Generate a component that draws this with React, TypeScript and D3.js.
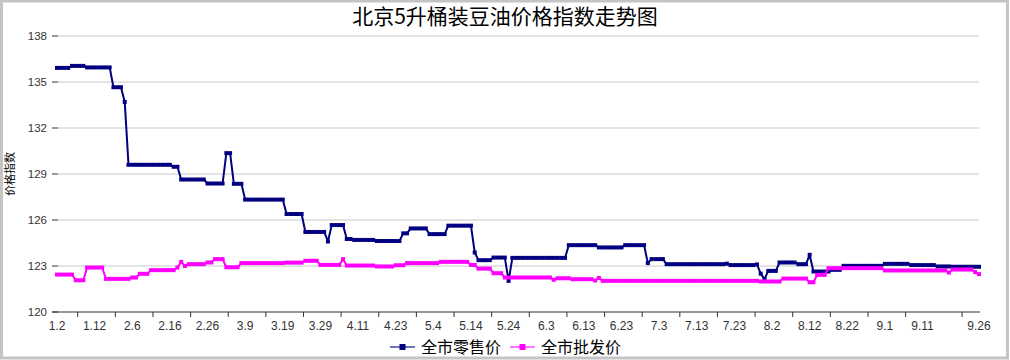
import React from "react";
import * as d3 from "d3";

// 全市零售价 (retail index), one value per trading day
const retail: number[] = [
  135.92, 135.92, 135.92, 135.92, 136.05, 136.05, 136.05, 136.05, 135.95, 135.95,
  135.95, 135.95, 135.95, 135.95, 135.95, 134.66, 134.66, 134.66, 133.7, 129.6,
  129.6, 129.6, 129.6, 129.6, 129.6, 129.6, 129.6, 129.6, 129.6, 129.6,
  129.6, 129.47, 129.47, 128.64, 128.64, 128.64, 128.64, 128.64, 128.64, 128.64,
  128.38, 128.38, 128.38, 128.38, 128.38, 130.36, 130.36, 128.36, 128.36, 128.36,
  127.33, 127.33, 127.33, 127.33, 127.33, 127.33, 127.33, 127.33, 127.33, 127.33,
  127.33, 126.39, 126.39, 126.39, 126.39, 126.39, 125.22, 125.22, 125.22, 125.22,
  125.22, 125.22, 124.6, 125.67, 125.67, 125.67, 125.67, 124.76, 124.76, 124.7,
  124.7, 124.7, 124.7, 124.7, 124.7, 124.63, 124.63, 124.63, 124.63, 124.63,
  124.63, 124.63, 125.13, 125.13, 125.45, 125.45, 125.45, 125.45, 125.45, 125.08,
  125.08, 125.08, 125.08, 125.08, 125.63, 125.63, 125.63, 125.63, 125.63, 125.63,
  125.63, 123.88, 123.38, 123.38, 123.38, 123.38, 123.55, 123.55, 123.55, 123.55,
  122.03, 123.53, 123.53, 123.53, 123.53, 123.53, 123.53, 123.53, 123.53, 123.53,
  123.53, 123.53, 123.53, 123.53, 123.53, 123.53, 124.36, 124.36, 124.36, 124.36,
  124.36, 124.36, 124.36, 124.36, 124.21, 124.21, 124.21, 124.21, 124.21, 124.21,
  124.21, 124.36, 124.36, 124.36, 124.36, 124.36, 124.36, 123.19, 123.45, 123.45,
  123.45, 123.45, 123.12, 123.12, 123.12, 123.12, 123.12, 123.12, 123.12, 123.12,
  123.12, 123.12, 123.12, 123.12, 123.12, 123.12, 123.12, 123.12, 123.15, 123.06,
  123.06, 123.06, 123.06, 123.06, 123.06, 123.06, 123.1, 122.5, 122.14, 122.68,
  122.68, 122.68, 123.23, 123.23, 123.23, 123.23, 123.23, 123.12, 123.12, 123.12,
  123.73, 122.64, 122.64, 122.64, 122.64, 122.64, 122.75, 122.75, 122.75, 123.01,
  123.01, 123.01, 123.01, 123.01, 123.01, 123.01, 123.01, 123.01, 123.01, 123.01,
  123.14, 123.14, 123.14, 123.14, 123.14, 123.14, 123.14, 123.06, 123.06, 123.06,
  123.06, 123.06, 123.06, 123.06, 122.97, 122.97, 122.97, 122.97, 122.95, 122.95,
  122.95, 122.95, 122.95, 122.95, 122.95, 122.95,
];

// 全市批发价 (wholesale index)
const wholesale: number[] = [
  122.44, 122.44, 122.44, 122.44, 122.44, 122.07, 122.07, 122.07, 122.9, 122.9,
  122.9, 122.9, 122.9, 122.16, 122.16, 122.16, 122.16, 122.16, 122.16, 122.16,
  122.25, 122.25, 122.49, 122.49, 122.49, 122.73, 122.73, 122.73, 122.73, 122.73,
  122.73, 122.73, 122.9, 123.27, 123.0, 123.12, 123.12, 123.12, 123.12, 123.12,
  123.23, 123.23, 123.45, 123.45, 123.45, 122.92, 122.92, 122.92, 122.92, 123.19,
  123.19, 123.19, 123.19, 123.19, 123.19, 123.19, 123.19, 123.19, 123.19, 123.19,
  123.19, 123.22, 123.22, 123.22, 123.22, 123.22, 123.34, 123.34, 123.34, 123.34,
  123.07, 123.07, 123.07, 123.07, 123.07, 123.07, 123.45, 123.03, 123.03, 123.03,
  123.03, 123.03, 123.03, 123.03, 123.03, 122.97, 122.97, 122.97, 122.97, 122.97,
  123.05, 123.05, 123.05, 123.19, 123.19, 123.19, 123.19, 123.19, 123.19, 123.19,
  123.19, 123.19, 123.27, 123.27, 123.27, 123.27, 123.27, 123.27, 123.27, 123.27,
  123.07, 123.07, 122.83, 122.83, 122.83, 122.83, 122.53, 122.53, 122.53, 122.25,
  122.25, 122.25, 122.25, 122.25, 122.25, 122.25, 122.25, 122.25, 122.25, 122.25,
  122.25, 122.25, 122.1, 122.2, 122.2, 122.2, 122.2, 122.14, 122.14, 122.14,
  122.14, 122.14, 122.14, 122.05, 122.22, 122.03, 122.03, 122.03, 122.03, 122.03,
  122.03, 122.03, 122.03, 122.03, 122.03, 122.03, 122.03, 122.03, 122.03, 122.03,
  122.03, 122.03, 122.03, 122.03, 122.03, 122.03, 122.03, 122.03, 122.03, 122.03,
  122.03, 122.03, 122.03, 122.03, 122.03, 122.03, 122.03, 122.03, 122.03, 122.03,
  122.03, 122.03, 122.03, 122.03, 122.03, 122.03, 122.03, 121.99, 121.99, 121.99,
  121.99, 121.99, 121.99, 122.18, 122.18, 122.18, 122.18, 122.18, 122.18, 122.18,
  121.94, 121.94, 122.42, 122.42, 122.42, 122.86, 122.86, 122.86, 122.86, 122.86,
  122.86, 122.86, 122.86, 122.86, 122.86, 122.86, 122.86, 122.86, 122.86, 122.86,
  122.71, 122.71, 122.71, 122.71, 122.71, 122.71, 122.71, 122.71, 122.71, 122.71,
  122.71, 122.71, 122.71, 122.71, 122.71, 122.71, 122.71, 122.57, 122.77, 122.77,
  122.77, 122.77, 122.77, 122.77, 122.6, 122.47,
];

const tickLabels = [
  "1.2", "1.12", "2.6", "2.16", "2.26", "3.9", "3.19", "3.29", "4.11", "4.23",
  "5.4", "5.14", "5.24", "6.3", "6.13", "6.23", "7.3", "7.13", "7.23", "8.2",
  "8.12", "8.22", "9.1", "9.11", "9.26",
];
const labelIndex = [
  0, 10, 20, 30, 40, 50, 60, 70, 80, 90, 100, 110, 120, 130, 140, 150, 160,
  170, 180, 190, 200, 210, 220, 230, 245,
];
const tickIndex = [
  5.5, 15.5, 25.5, 35.5, 45.5, 55.5, 65.5, 75.5, 85.5, 95.5, 105.5, 115.5,
  125.5, 135.5, 145.5, 155.5, 165.5, 175.5, 185.5, 195.5, 205.5, 215.5, 225.5,
  240.5,
];
const yTicks = [120, 123, 126, 129, 132, 135, 138];

const seriesNames = ["全市零售价", "全市批发价"];
const seriesColors = ["#000080", "#ff00ff"];

const W = 1010;
const H = 360;
const FONT = "'Liberation Sans', Arial, 'Noto Sans CJK SC', sans-serif";
const CJK = "'Noto Sans CJK SC', sans-serif";

export default function App() {
  const x = d3.scaleLinear().domain([0, retail.length - 1]).range([57, 979]);
  const y = d3.scaleLinear().domain([120, 138]).range([312, 36]);
  const line = d3
    .line<number>()
    .x((_, i) => x(i))
    .y((d) => y(d));
  const series = [retail, wholesale];

  return (
    <svg
      width={W}
      height={H}
      style={{ position: "absolute", left: 0, top: 0, background: "#fff" }}
    >
      <rect x={0} y={0} width={W} height={H} fill="#fff" />
      <rect
        x={1.5}
        y={1}
        width={W - 4}
        height={H - 3}
        fill="none"
        stroke="#c4c4c4"
        strokeWidth={3}
      />
      <text
        x={505}
        y={24}
        textAnchor="middle"
        fontFamily={CJK}
        fontSize={21}
        fill="#000"
      >
        北京5升桶装豆油价格指数走势图
      </text>

      {/* grid + y ticks */}
      {yTicks.map((t) => (
        <g key={t}>
          {t !== 120 && (
            <line x1={58} x2={979} y1={y(t)} y2={y(t)} stroke="#c8c8c8" strokeWidth={1} />
          )}
          <line x1={52} x2={58} y1={y(t)} y2={y(t)} stroke="#333" strokeWidth={1} />
          <text
            x={47}
            y={y(t) + 4}
            textAnchor="end"
            fontFamily={FONT}
            fontSize={11.5}
            fill="#333"
          >
            {t}
          </text>
        </g>
      ))}
      <text
        transform={`translate(14,${y(129)}) rotate(-90)`}
        textAnchor="middle"
        fontFamily={CJK}
        fontSize={11}
        fill="#000"
      >
        价格指数
      </text>

      {/* x axis */}
      <line x1={52} x2={980} y1={y(120)} y2={y(120)} stroke="#333" strokeWidth={1} />
      {tickIndex.map((t) => (
        <line key={t} x1={x(t)} x2={x(t)} y1={y(120)} y2={y(120) + 5} stroke="#333" strokeWidth={1} />
      ))}
      {labelIndex.map((t, k) => (
        <text
          key={t}
          x={x(t)}
          y={y(120) + 18}
          textAnchor="middle"
          fontFamily={FONT}
          fontSize={12}
          fill="#333"
        >
          {tickLabels[k]}
        </text>
      ))}

      {/* series */}
      {series.map((s, k) => (
        <g key={k}>
          <path d={line(s) || ""} fill="none" stroke={seriesColors[k]} strokeWidth={2} strokeLinejoin="round" />
          {s.map((v, i) => (
            <rect key={i} x={x(i) - 2} y={y(v) - 2} width={4} height={4} fill={seriesColors[k]} />
          ))}
        </g>
      ))}

      {/* legend */}
      {seriesNames.map((n, k) => {
        const lx = k === 0 ? 390 : 510;
        return (
          <g key={n}>
            <line x1={lx} x2={lx + 25} y1={347} y2={347} stroke={seriesColors[k]} strokeOpacity={0.55} strokeWidth={2} />
            <rect x={lx + 9.5} y={344} width={6} height={6} fill={seriesColors[k]} />
            <text x={lx + 31} y={353} fontFamily={CJK} fontSize={16} fill="#000">
              {n}
            </text>
          </g>
        );
      })}
    </svg>
  );
}
